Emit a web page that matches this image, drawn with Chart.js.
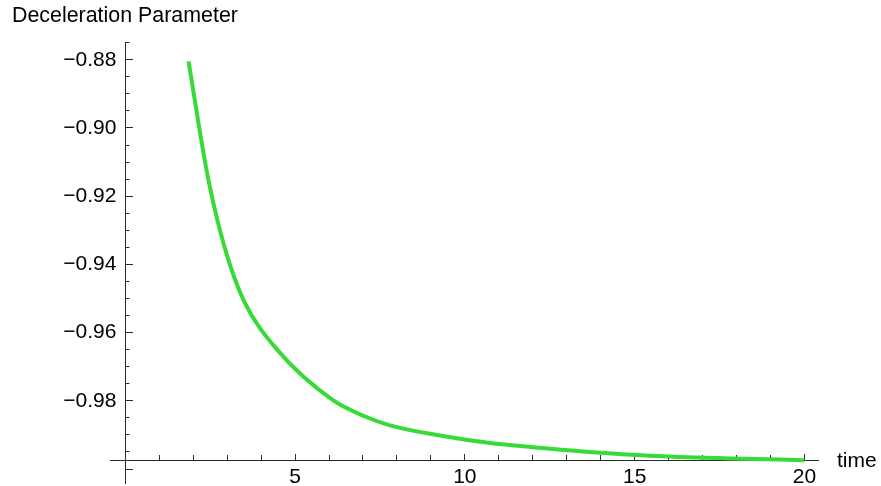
<!DOCTYPE html>
<html>
<head>
<meta charset="utf-8">
<script src="https://cdn.jsdelivr.net/npm/chart.js@4"></script>
<style>
  body { margin: 0; background: #fff; }
  #wrap { position: relative; width: 881px; height: 486px; font-family: "Liberation Sans", Arial, sans-serif; color: #000; }
  #yTitle { position: absolute; left: 12px; top: 5px; font-size: 21.4px; line-height: 21px; white-space: nowrap; }
  #xTitle { position: absolute; left: 837px; top: 449px; font-size: 21px; line-height: 21px; }
</style>
</head>
<body>
<div id="wrap">
  <canvas id="chart" width="881" height="486"></canvas>
  <div id="yTitle">Deceleration Parameter</div>
  <div id="xTitle">time</div>
</div>
<script>
/* Deceleration parameter vs time */
const timeValues = [1.862, 2.451, 2.951, 3.490, 4.498, 6.127, 7.06, 7.797, 9.27, 10.743, 12.951, 15.455, 17.81, 20.0];
const qValues = [-0.8805, -0.9154, -0.9359, -0.9506, -0.9653, -0.9799, -0.9846, -0.9872, -0.9902, -0.9924, -0.9944, -0.9961, -0.9969, -0.9974];

const xTickValues = [5, 10, 15, 20];
const xTickLabels = ['5', '10', '15', '20'];
const yTickValues = [-0.98, -0.96, -0.94, -0.92, -0.90, -0.88];
const yTickLabels = ['\u22120.98', '\u22120.96', '\u22120.94', '\u22120.92', '\u22120.90', '\u22120.88'];

const AXIS_COLOR = '#2a2a2a';
const LINE_COLOR = '#38da38';
const X_MIN = -0.45, X_MAX = 20.4;
const Y_MIN = -1.0041, Y_MAX = -0.8748;
const X_AXIS_AT = -0.9975;   // where the time axis crosses
const Y_LABELS_AT = -0.26;   // y labels sit a little left of the axis line
const TICK_FONT = { family: '"Liberation Sans", Arial, sans-serif', size: 21 };

function labelFor(values, labels) {
    return v => {
        const i = values.findIndex(t => Math.abs(t - v) < 1e-6);
        return i >= 0 ? labels[i] : '';
    };
}

// no extra layout space for axes drawn inside the plot
function noPadding(scale) {
    scale.paddingTop = scale.paddingBottom = scale.paddingLeft = scale.paddingRight = 0;
}

function axis(dir, step, opts) {
    const isX = dir === 'x';
    return {
        type: 'linear',
        axis: dir,
        position: isX ? { y: X_AXIS_AT } : { x: opts.at || 0 },
        min: isX ? X_MIN : Y_MIN,
        max: isX ? X_MAX : Y_MAX,
        grid: {
            display: opts.tick !== undefined,
            drawOnChartArea: false, drawTicks: true,
            tickLength: opts.tick || 0, tickColor: AXIS_COLOR, tickWidth: 1
        },
        border: { display: !!opts.line, color: AXIS_COLOR, width: 1 },
        ticks: {
            display: !!opts.labels,
            stepSize: step,
            includeBounds: false,
            autoSkip: false,
            maxTicksLimit: 100,
            maxRotation: 0,
            color: '#000',
            font: TICK_FONT,
            padding: 11,
            callback: isX ? labelFor(xTickValues, xTickLabels) : labelFor(yTickValues, yTickLabels),
        },
        afterFit: noPadding,
    };
}

new Chart(document.getElementById('chart'), {
    type: 'scatter',
    data: {
        datasets: [{
            data: timeValues.map((t, i) => ({ x: t, y: qValues[i] })),
            showLine: true,
            borderColor: LINE_COLOR,
            borderWidth: 4,
            borderCapStyle: 'butt',
            pointRadius: 0,
            cubicInterpolationMode: 'monotone',
            xAxisID: 'x',
            yAxisID: 'y',
        }]
    },
    options: {
        responsive: false,
        devicePixelRatio: 1,
        animation: false,
        layout: { padding: { left: 110, right: 63, top: 42, bottom: 3 } },
        plugins: { legend: { display: false }, tooltip: { enabled: false }, title: { display: false } },
        scales: {
            x: axis('x', 5, { tick: -7, line: true, labels: true }),
            xMinor: axis('x', 1, { tick: -5 }),
            y: axis('y', 0.02, { tick: -8, line: true }),
            yMinor: axis('y', 0.005, { tick: -4.5 }),
            yLabels: axis('y', 0.02, { at: Y_LABELS_AT, labels: true }),
        }
    }
});
</script>
</body>
</html>
